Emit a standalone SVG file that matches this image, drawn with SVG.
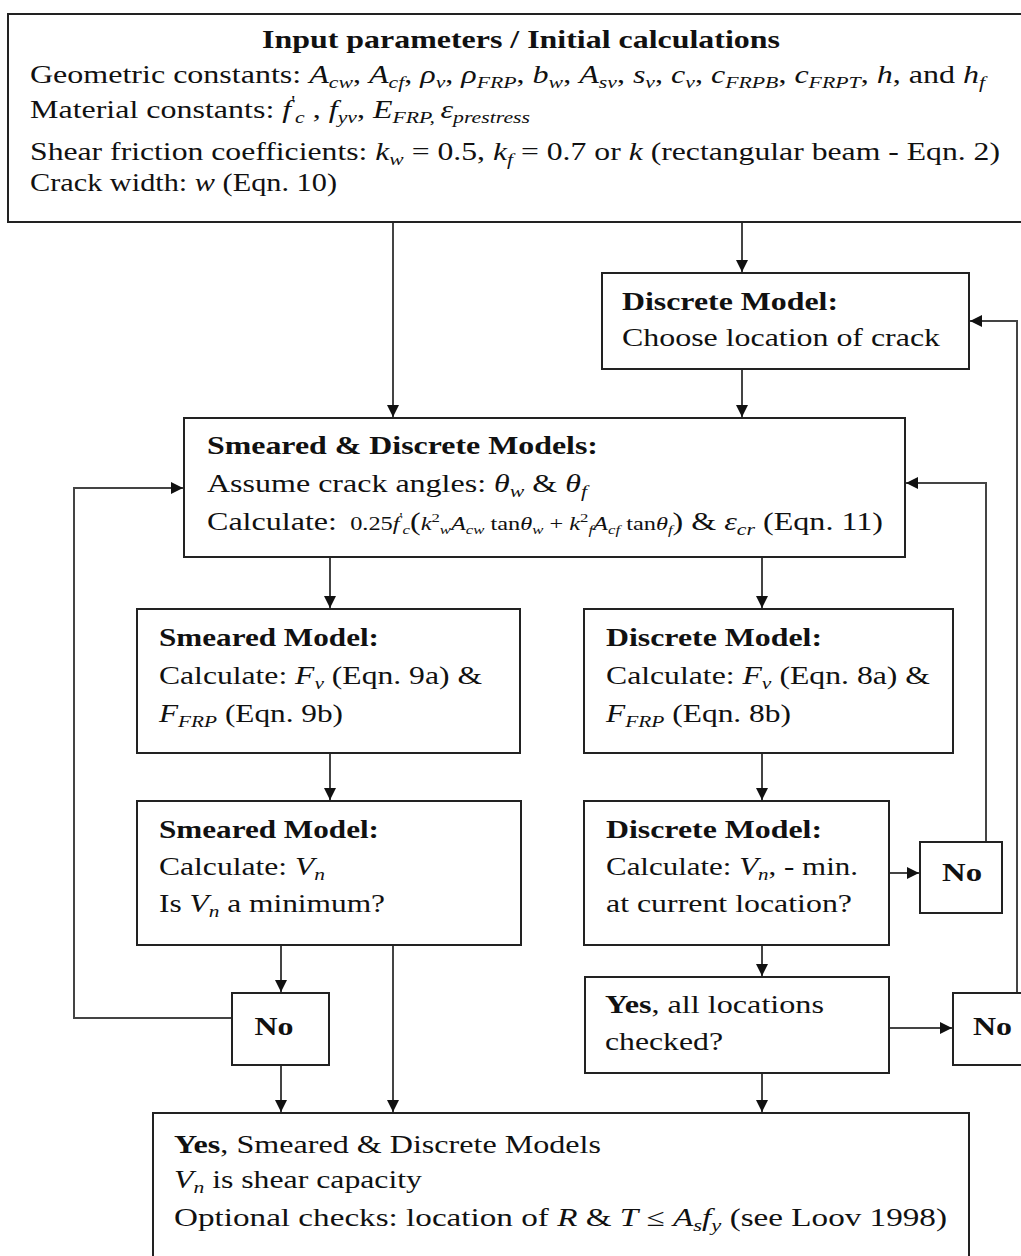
<svg xmlns="http://www.w3.org/2000/svg" width="1021" height="1256" viewBox="0 0 1021 1256">
<defs>
<style>
.box{fill:#fff;stroke:#222;stroke-width:2}
.ln{fill:none;stroke:#444;stroke-width:2}
.t{font-family:"Liberation Serif","DejaVu Serif",serif;font-size:25px;fill:#111}
.b{font-weight:bold}
.i{font-style:italic}
.s{font-size:17px}
.m{font-size:19px}
.ms{font-size:13px}
.mp{font-size:25px}
</style>
<marker id="ah" markerUnits="userSpaceOnUse" markerWidth="13" markerHeight="12" refX="12" refY="6" orient="auto"><path d="M0,0 L12,6 L0,12 z" fill="#111"/></marker>
</defs>
<rect width="1021" height="1256" fill="#fff"/>

<g id="connectors">
<line class="ln" x1="393" y1="222" x2="393" y2="417" marker-end="url(#ah)"/>
<line class="ln" x1="742" y1="222" x2="742" y2="272" marker-end="url(#ah)"/>
<line class="ln" x1="742" y1="369" x2="742" y2="417" marker-end="url(#ah)"/>
<line class="ln" x1="330" y1="557" x2="330" y2="608" marker-end="url(#ah)"/>
<line class="ln" x1="762" y1="557" x2="762" y2="608" marker-end="url(#ah)"/>
<line class="ln" x1="330" y1="753" x2="330" y2="800" marker-end="url(#ah)"/>
<line class="ln" x1="762" y1="753" x2="762" y2="800" marker-end="url(#ah)"/>
<line class="ln" x1="889" y1="873" x2="919" y2="873" marker-end="url(#ah)"/>
<polyline class="ln" points="986,842 986,483 906,483" marker-end="url(#ah)"/>
<line class="ln" x1="762" y1="945" x2="762" y2="976" marker-end="url(#ah)"/>
<line class="ln" x1="889" y1="1028" x2="952" y2="1028" marker-end="url(#ah)"/>
<polyline class="ln" points="1017,993 1017,321 970,321" marker-end="url(#ah)"/>
<line class="ln" x1="281" y1="945" x2="281" y2="992" marker-end="url(#ah)"/>
<polyline class="ln" points="232,1018 74,1018 74,488 183,488" marker-end="url(#ah)"/>
<line class="ln" x1="393" y1="945" x2="393" y2="1112" marker-end="url(#ah)"/>
<line class="ln" x1="281" y1="1065" x2="281" y2="1112" marker-end="url(#ah)"/>
<line class="ln" x1="762" y1="1073" x2="762" y2="1112" marker-end="url(#ah)"/>
</g>

<g id="input">
<rect class="box" x="8" y="14" width="1030" height="208"/>
<text class="t b" x="521" y="48" text-anchor="middle" textLength="518" lengthAdjust="spacingAndGlyphs">Input parameters / Initial calculations</text>
<text class="t" x="30" y="83" textLength="955" lengthAdjust="spacingAndGlyphs">Geometric constants: <tspan class="i">A</tspan><tspan class="s i" dy="5">cw</tspan><tspan dy="-5">, </tspan><tspan class="i">A</tspan><tspan class="s i" dy="5">cf</tspan><tspan dy="-5">, </tspan><tspan class="i">ρ</tspan><tspan class="s i" dy="5">v</tspan><tspan dy="-5">, </tspan><tspan class="i">ρ</tspan><tspan class="s i" dy="5">FRP</tspan><tspan dy="-5">, </tspan><tspan class="i">b</tspan><tspan class="s i" dy="5">w</tspan><tspan dy="-5">, </tspan><tspan class="i">A</tspan><tspan class="s i" dy="5">sv</tspan><tspan dy="-5">, </tspan><tspan class="i">s</tspan><tspan class="s i" dy="5">v</tspan><tspan dy="-5">, </tspan><tspan class="i">c</tspan><tspan class="s i" dy="5">v</tspan><tspan dy="-5">, </tspan><tspan class="i">c</tspan><tspan class="s i" dy="5">FRPB</tspan><tspan dy="-5">, </tspan><tspan class="i">c</tspan><tspan class="s i" dy="5">FRPT</tspan><tspan dy="-5">, </tspan><tspan class="i">h</tspan><tspan>, and </tspan><tspan class="i">h</tspan><tspan class="s i" dy="5">f</tspan></text>
<text class="t" x="30" y="118" textLength="500" lengthAdjust="spacingAndGlyphs">Material constants: <tspan class="i">f</tspan><tspan class="s" dy="-11">'</tspan><tspan class="s i" dy="16">c</tspan><tspan dy="-5"> , </tspan><tspan class="i">f</tspan><tspan class="s i" dy="5">yv</tspan><tspan dy="-5">, </tspan><tspan class="i">E</tspan><tspan class="s i" dy="5">FRP, </tspan><tspan class="i" dy="-5">ε</tspan><tspan class="s i" dy="5">prestress</tspan></text>
<text class="t" x="30" y="160" textLength="970" lengthAdjust="spacingAndGlyphs">Shear friction coefficients: <tspan class="i">k</tspan><tspan class="s i" dy="5">w</tspan><tspan dy="-5"> = 0.5, </tspan><tspan class="i">k</tspan><tspan class="s i" dy="5">f</tspan><tspan dy="-5"> = 0.7 or </tspan><tspan class="i">k</tspan><tspan> (rectangular beam - Eqn. 2)</tspan></text>
<text class="t" x="30" y="191" textLength="307" lengthAdjust="spacingAndGlyphs">Crack width: <tspan class="i">w</tspan><tspan> (Eqn. 10)</tspan></text>
</g>

<g id="discrete-location">
<rect class="box" x="602" y="273" width="367" height="96"/>
<text class="t b" x="622" y="310" textLength="216" lengthAdjust="spacingAndGlyphs">Discrete Model:</text>
<text class="t" x="622" y="346" textLength="318" lengthAdjust="spacingAndGlyphs">Choose location of crack</text>
</g>

<g id="smeared-discrete">
<rect class="box" x="184" y="418" width="721" height="139"/>
<text class="t b" x="207" y="454" textLength="391" lengthAdjust="spacingAndGlyphs">Smeared &amp; Discrete Models:</text>
<text class="t" x="207" y="492" textLength="380" lengthAdjust="spacingAndGlyphs">Assume crack angles: <tspan class="i">θ</tspan><tspan class="s i" dy="5">w</tspan><tspan dy="-5"> &amp; </tspan><tspan class="i">θ</tspan><tspan class="s i" dy="5">f</tspan></text>
<text class="t" x="207" y="530" textLength="676" lengthAdjust="spacingAndGlyphs">Calculate: <tspan class="m" dx="4">0.25</tspan><tspan class="m i">f</tspan><tspan class="ms" dy="-9">'</tspan><tspan class="ms i" dy="13">c</tspan><tspan class="mp" dy="-4">(</tspan><tspan class="m i">k</tspan><tspan class="ms" dy="-8">2</tspan><tspan class="ms i" dy="12">w</tspan><tspan class="m i" dy="-4">A</tspan><tspan class="ms i" dy="4">cw</tspan><tspan class="m" dy="-4"> tan</tspan><tspan class="m i">θ</tspan><tspan class="ms i" dy="4">w</tspan><tspan class="m" dy="-4"> + </tspan><tspan class="m i">k</tspan><tspan class="ms" dy="-8">2</tspan><tspan class="ms i" dy="12">f</tspan><tspan class="m i" dy="-4">A</tspan><tspan class="ms i" dy="4">cf</tspan><tspan class="m" dy="-4"> tan</tspan><tspan class="m i">θ</tspan><tspan class="ms i" dy="4">f</tspan><tspan class="mp" dy="-4">)</tspan><tspan> &amp; </tspan><tspan class="i">ε</tspan><tspan class="s i" dy="5">cr</tspan><tspan dy="-5"> (Eqn. 11)</tspan></text>
</g>

<g id="smeared-forces">
<rect class="box" x="137" y="609" width="383" height="144"/>
<text class="t b" x="159" y="646" textLength="220" lengthAdjust="spacingAndGlyphs">Smeared Model:</text>
<text class="t" x="159" y="684" textLength="323" lengthAdjust="spacingAndGlyphs">Calculate: <tspan class="i">F</tspan><tspan class="s i" dy="5">v</tspan><tspan dy="-5"> (Eqn. 9a) &amp;</tspan></text>
<text class="t" x="159" y="722" textLength="184" lengthAdjust="spacingAndGlyphs"><tspan class="i">F</tspan><tspan class="s i" dy="5">FRP</tspan><tspan dy="-5"> (Eqn. 9b)</tspan></text>
</g>

<g id="discrete-forces">
<rect class="box" x="584" y="609" width="369" height="144"/>
<text class="t b" x="606" y="646" textLength="216" lengthAdjust="spacingAndGlyphs">Discrete Model:</text>
<text class="t" x="606" y="684" textLength="324" lengthAdjust="spacingAndGlyphs">Calculate: <tspan class="i">F</tspan><tspan class="s i" dy="5">v</tspan><tspan dy="-5"> (Eqn. 8a) &amp;</tspan></text>
<text class="t" x="606" y="722" textLength="185" lengthAdjust="spacingAndGlyphs"><tspan class="i">F</tspan><tspan class="s i" dy="5">FRP</tspan><tspan dy="-5"> (Eqn. 8b)</tspan></text>
</g>

<g id="smeared-vn">
<rect class="box" x="137" y="801" width="384" height="144"/>
<text class="t b" x="159" y="838" textLength="220" lengthAdjust="spacingAndGlyphs">Smeared Model:</text>
<text class="t" x="159" y="875" textLength="166" lengthAdjust="spacingAndGlyphs">Calculate: <tspan class="i">V</tspan><tspan class="s i" dy="5">n</tspan></text>
<text class="t" x="159" y="912" textLength="226" lengthAdjust="spacingAndGlyphs">Is <tspan class="i">V</tspan><tspan class="s i" dy="5">n</tspan><tspan dy="-5"> a minimum?</tspan></text>
</g>

<g id="discrete-vn">
<rect class="box" x="584" y="801" width="305" height="144"/>
<text class="t b" x="606" y="838" textLength="216" lengthAdjust="spacingAndGlyphs">Discrete Model:</text>
<text class="t" x="606" y="875" textLength="252" lengthAdjust="spacingAndGlyphs">Calculate: <tspan class="i">V</tspan><tspan class="s i" dy="5">n</tspan><tspan dy="-5">, - min.</tspan></text>
<text class="t" x="606" y="912" textLength="246" lengthAdjust="spacingAndGlyphs">at current location?</text>
</g>

<g id="no-location">
<rect class="box" x="920" y="842" width="82" height="71"/>
<text class="t b" x="962" y="881" text-anchor="middle" textLength="40" lengthAdjust="spacingAndGlyphs">No</text>
</g>

<g id="yes-all">
<rect class="box" x="585" y="977" width="304" height="96"/>
<text class="t" x="605" y="1013" textLength="219" lengthAdjust="spacingAndGlyphs"><tspan class="b">Yes</tspan>, all locations</text>
<text class="t" x="605" y="1050" textLength="118" lengthAdjust="spacingAndGlyphs">checked?</text>
</g>

<g id="no-smeared">
<rect class="box" x="232" y="993" width="97" height="72"/>
<text class="t b" x="274" y="1035" text-anchor="middle" textLength="39" lengthAdjust="spacingAndGlyphs">No</text>
</g>

<g id="no-all">
<rect class="box" x="953" y="993" width="90" height="72"/>
<text class="t b" x="973" y="1035" textLength="39" lengthAdjust="spacingAndGlyphs">No</text>
</g>

<g id="result">
<rect class="box" x="153" y="1113" width="816" height="160"/>
<text class="t" x="174" y="1153" textLength="427" lengthAdjust="spacingAndGlyphs"><tspan class="b">Yes</tspan>, Smeared &amp; Discrete Models</text>
<text class="t" x="174" y="1188" textLength="248" lengthAdjust="spacingAndGlyphs"><tspan class="i">V</tspan><tspan class="s i" dy="5">n</tspan><tspan dy="-5"> is shear capacity</tspan></text>
<text class="t" x="174" y="1226" textLength="773" lengthAdjust="spacingAndGlyphs">Optional checks: location of <tspan class="i">R</tspan><tspan> &amp; </tspan><tspan class="i">T</tspan><tspan> ≤ </tspan><tspan class="i">A</tspan><tspan class="s i" dy="5">s</tspan><tspan class="i" dy="-5">f</tspan><tspan class="s i" dy="5">y</tspan><tspan dy="-5"> (see Loov 1998)</tspan></text>
</g>
</svg>
